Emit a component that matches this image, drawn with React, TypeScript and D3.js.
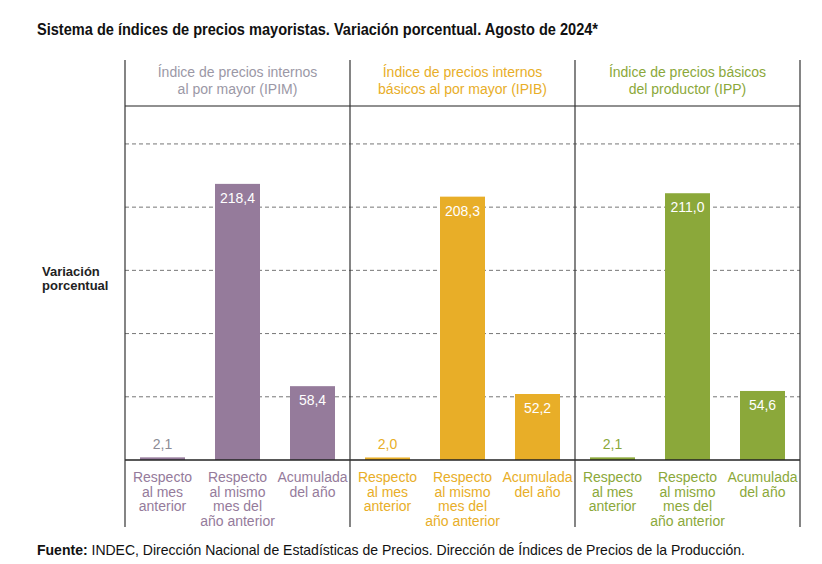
import React from "react";
import * as d3 from "d3";

const panelTitles = [
  ["Índice de precios internos", "al por mayor (IPIM)"],
  ["Índice de precios internos", "básicos al por mayor (IPIB)"],
  ["Índice de precios básicos", "del productor (IPP)"],
];
const categories = ["m", "i", "a"];
const categoryLabels = [
  ["Respecto", "al mes", "anterior"],
  ["Respecto", "al mismo", "mes del", "año anterior"],
  ["Acumulada", "del año"],
];
const ipim = [2.1, 218.4, 58.4];
const ipib = [2.0, 208.3, 52.2];
const ipp = [2.1, 211.0, 54.6];
const series = [ipim, ipib, ipp];
const gridTicks = [50, 100, 150, 200, 250];

const barColors = ["#957b9b", "#e8ae28", "#8ba83a"];
const textColors = ["#957b9b", "#e8ae28", "#8ba83a"];
const headerColors = ["#9b98a6", "#e8ae28", "#8ba83a"];
const smallLabelColors = ["#8c8c96", "#e8ae28", "#8ba83a"];

const fmt = (v: number) => v.toFixed(1).replace(".", ",");

export default function App() {
  const W = 822, H = 564;
  const x0 = 125, x1 = 800;
  const baseY = 460, topY = 106;
  const panel = d3.scaleBand<number>().domain([0, 1, 2]).range([x0, x1]);
  const y = d3.scaleLinear().domain([0, 280]).range([baseY, topY]);
  const sans = "'Liberation Sans', Arial, Helvetica, sans-serif";
  return (
    <svg width={W} height={H} style={{ position: "absolute", left: 0, top: 0, background: "#fff" }}>
      <text x={37} y={35} fontFamily={sans} fontWeight="bold" fontSize={16.5} fill="#111"
        textLength={561} lengthAdjust="spacingAndGlyphs">
        Sistema de índices de precios mayoristas. Variación porcentual. Agosto de 2024*
      </text>
      {gridTicks.map((t) => (
        <line key={t} x1={x0} x2={x1} y1={y(t)} y2={y(t)} stroke="#777" strokeDasharray="4,3" strokeWidth={1} />
      ))}
      <line x1={x0} x2={x1} y1={y(280)} y2={y(280)} stroke="#222" strokeWidth={1.2} />
      <text fontFamily={sans} fontWeight="bold" fontSize={13} fill="#222">
        <tspan x={42} y={276}>Variación</tspan>
        <tspan x={42} y={290}>porcentual</tspan>
      </text>
      {series.map((vals, pi) => {
        const px = panel(pi)!;
        const inner = d3.scaleBand<string>().domain(categories).range([px, px + panel.bandwidth()]).paddingInner(0.4).paddingOuter(0.2);
        const cx = px + panel.bandwidth() / 2;
        return (
          <g key={pi}>
            <text textAnchor="middle" fontFamily={sans} fontSize={14} fill={headerColors[pi]}>
              {panelTitles[pi].map((s, i) => (
                <tspan key={i} x={cx} y={77 + i * 17}>{s}</tspan>
              ))}
            </text>
            {vals.map((v, i) => {
              const bx = inner(categories[i])!;
              const bw = inner.bandwidth();
              const top = y(v);
              const inside = baseY - top > 30;
              return (
                <g key={i}>
                  <rect x={bx} y={top} width={bw} height={baseY - top} fill={barColors[pi]} />
                  <text x={bx + bw / 2} y={inside ? top + 19 : top - 8} textAnchor="middle" fontFamily={sans} fontSize={14}
                    fill={inside ? "#fff" : smallLabelColors[pi]}>{fmt(v)}</text>
                  <text textAnchor="middle" fontFamily={sans} fontSize={14} fill={textColors[pi]}>
                    {categoryLabels[i].map((s, k) => (
                      <tspan key={k} x={bx + bw / 2} y={482 + k * 14.5}>{s}</tspan>
                    ))}
                  </text>
                </g>
              );
            })}
          </g>
        );
      })}
      <line x1={x0} x2={x1} y1={baseY} y2={baseY} stroke="#222" strokeWidth={1.5} />
      {[0, 1, 2, 3].map((i) => {
        const xx = i < 3 ? panel(i)! : x1;
        return <line key={i} x1={xx} x2={xx} y1={60} y2={527} stroke="#333" strokeWidth={1.2} />;
      })}
      <text x={37} y={555} fontFamily={sans} fontSize={14.5} fill="#111" textLength={708} lengthAdjust="spacingAndGlyphs">
        <tspan fontWeight="bold">Fuente:</tspan> INDEC, Dirección Nacional de Estadísticas de Precios. Dirección de Índices de Precios de la Producción.
      </text>
    </svg>
  );
}
